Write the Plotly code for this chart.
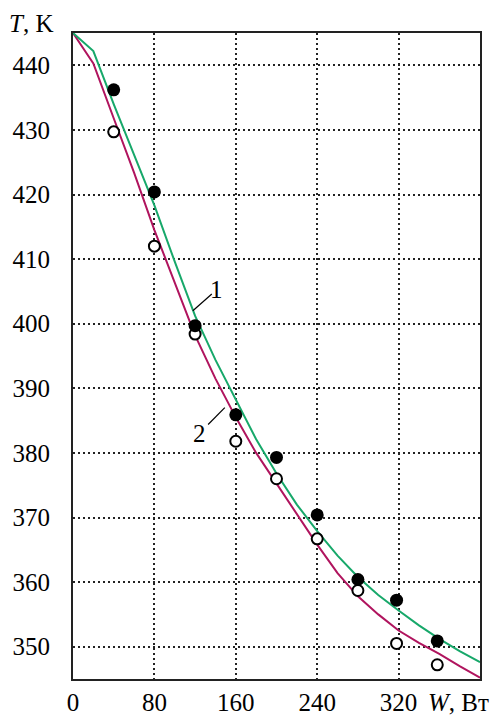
import plotly.graph_objects as go

# Curves (model)
W_curve = [0, 20, 40, 60, 80, 100, 120, 140, 160, 180, 200, 220, 240, 260, 280, 300, 320, 340, 360, 380, 400]
T_curve1 = [445, 442.2, 434.0, 426.2, 418.3, 409.6, 401.2, 394.4, 388.3, 382.1, 376.8, 372.0, 367.9, 364.1,
            360.8, 358.0, 355.6, 353.3, 351.2, 349.3, 347.6]
T_curve2 = [445, 440.3, 431.8, 423.4, 414.5, 406.2, 398.2, 391.5, 385.5, 380.0, 375.3, 370.4, 365.8, 361.4,
            357.8, 355.0, 352.5, 350.6, 348.9, 347.0, 345.2]

# Experimental points
W_pts = [40, 80, 120, 160, 200, 240, 280, 318, 358]
T_filled = [436.2, 420.4, 399.7, 385.9, 379.3, 370.4, 360.4, 357.2, 350.9]
T_open = [429.7, 412.0, 398.4, 381.8, 376.0, 366.7, 358.7, 350.5, 347.2]

x_ticks = [0, 80, 160, 240, 320]
y_ticks = [350, 360, 370, 380, 390, 400, 410, 420, 430, 440]

GREEN = "#17A86A"
MAGENTA = "#B0145E"
FONT = "Liberation Serif"

fig = go.Figure()
fig.add_trace(go.Scatter(x=W_curve, y=T_curve2, mode="lines",
                         line=dict(color=MAGENTA, width=2), showlegend=False))
fig.add_trace(go.Scatter(x=W_curve, y=T_curve1, mode="lines",
                         line=dict(color=GREEN, width=2), showlegend=False))
fig.add_trace(go.Scatter(x=W_pts, y=T_open, mode="markers",
                         marker=dict(symbol="circle", size=11, color="white",
                                     line=dict(color="black", width=2)), showlegend=False))
fig.add_trace(go.Scatter(x=W_pts, y=T_filled, mode="markers",
                         marker=dict(symbol="circle", size=13, color="black",
                                     line=dict(color="black", width=0)), showlegend=False))

# curve labels with leader lines
fig.add_shape(type="line", x0=117.8, y0=402.0, x1=136.4, y1=404.6, line=dict(color="black", width=1.2))
fig.add_shape(type="line", x0=132.8, y0=384.4, x1=149.2, y1=387.0, line=dict(color="black", width=1.2))
fig.add_annotation(x=141.5, y=405.3, text="1", showarrow=False, xanchor="center", yanchor="middle",
                   font=dict(family=FONT, size=25, color="black"))
fig.add_annotation(x=124.5, y=383.0, text="2", showarrow=False, xanchor="center", yanchor="middle",
                   font=dict(family=FONT, size=25, color="black"))

# axis titles
fig.add_annotation(xref="paper", yref="paper", x=-0.044, y=1, xanchor="right", yanchor="bottom",
                   yshift=-6, text="<i>T</i>, K", showarrow=False,
                   font=dict(family=FONT, size=25, color="black"))
fig.add_annotation(xref="x", yref="paper", x=347, y=0, xanchor="left", yanchor="top",
                   yshift=-8, text="<i>W</i>, Вт", showarrow=False,
                   font=dict(family=FONT, size=25, color="black"))

axis_common = dict(showgrid=True, gridcolor="#222", griddash="1.5px,3.5px", gridwidth=1.5,
                   zeroline=False, showline=True, linecolor="#222", linewidth=2, mirror=True,
                   ticks="", automargin=False, tickfont=dict(family=FONT, size=25, color="black"))

fig.update_xaxes(range=[0, 400], tickvals=x_ticks, ticktext=[str(v) for v in x_ticks],
                 ticklabelstandoff=0, **axis_common)
fig.update_yaxes(range=[345, 445], tickvals=y_ticks, ticktext=[str(v) for v in y_ticks],
                 ticklabelstandoff=16, **axis_common)

fig.update_layout(width=499, height=716, margin=dict(l=73, r=19, t=33, b=37),
                  plot_bgcolor="white", paper_bgcolor="white",
                  font=dict(family=FONT, size=25, color="black"))

fig.write_html("out.html", config={"displayModeBar": False},
               post_script="document.body.style.margin='0';document.body.style.overflow='hidden';")
